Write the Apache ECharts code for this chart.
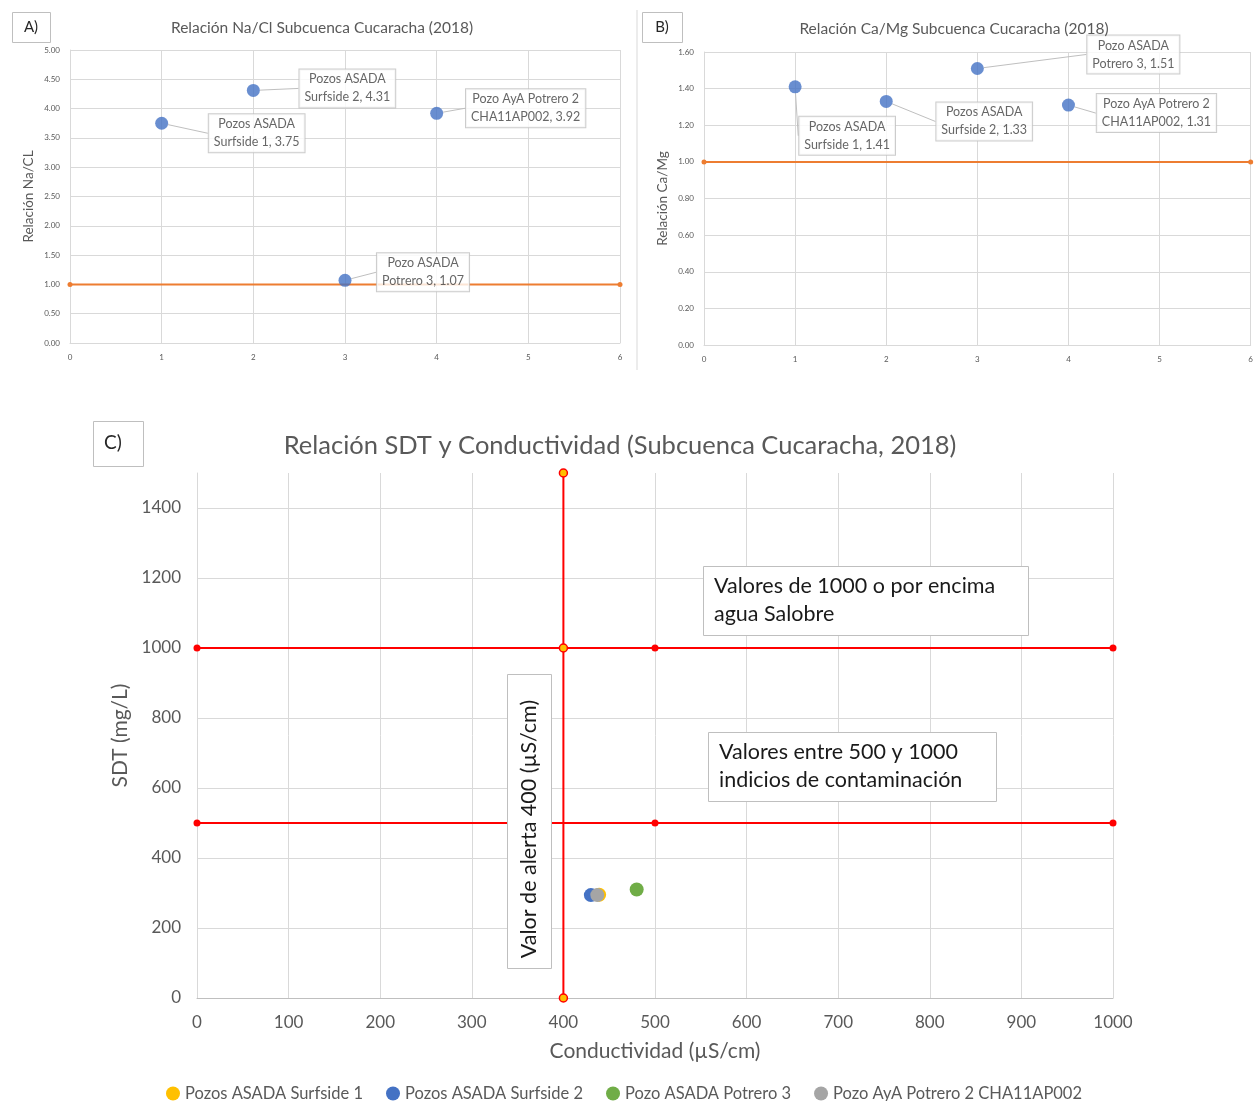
<!DOCTYPE html>
<html><head><meta charset="utf-8">
<script src="https://cdn.jsdelivr.net/npm/echarts@6/dist/echarts.min.js"></script>
<style>html,body{margin:0;padding:0;background:#fff}#c{width:1256px;height:1101px}</style>
</head><body><div id="c"></div>
<script>
// ---------- Data ----------
const wellLabelsA = ['Pozos ASADA\nSurfside 1', 'Pozos ASADA\nSurfside 2', 'Pozo ASADA\nPotrero 3', 'Pozo AyA Potrero 2\nCHA11AP002'];
const wellIdx = [1, 2, 3, 4];
const naClRatio = [3.75, 4.31, 1.07, 3.92];
const caMgRatio = [1.41, 1.33, 1.51, 1.31];
const refLineX = [0, 6];
const refLineY = [1, 1];

const seriesNamesC = ['Pozos ASADA Surfside 1', 'Pozos ASADA Surfside 2', 'Pozo ASADA Potrero 3', 'Pozo AyA Potrero 2 CHA11AP002'];
const conductividad = [439, 430, 480, 437];
const sdt = [295, 294, 310, 294];
const line1000X = [0, 500, 1000];
const line1000Y = [1000, 1000, 1000];
const line500X = [0, 500, 1000];
const line500Y = [500, 500, 500];
const alertX = [400, 400, 400];
const alertY = [0, 1000, 1500];

// ---------- Layout (label offsets, px) ----------
const offA = [[95, 10], [94, -2], [78, -8], [89, -5]];
const offB = [[52, 49], [98, 20], [156, -14], [88, 8]];

const colorsC = ['#ffc000', '#4472c4', '#70ad47', '#a5a5a5'];
const FONT = 'Lato, "Open Sans", sans-serif';
const GRID = '#d9d9d9';
const TXT = '#595959';

function pairs(xs, ys) { return xs.map((x, i) => [x, ys[i]]); }

function smallXAxis(gi) {
  return { gridIndex: gi, type: 'value', min: 0, max: 6, interval: 1,
    axisLine: { lineStyle: { color: GRID } }, axisTick: { show: false },
    axisLabel: { color: TXT, fontSize: 8, fontFamily: FONT, margin: 10 },
    splitLine: { lineStyle: { color: GRID } } };
}
function smallYAxis(gi, max, interval, name) {
  return { gridIndex: gi, type: 'value', min: 0, max: max, interval: interval,
    name: name, nameLocation: 'middle', nameGap: 34, nameTextStyle: { color: TXT, fontSize: 13.5, fontFamily: FONT },
    axisLine: { show: true, lineStyle: { color: GRID } }, axisTick: { show: false },
    axisLabel: { color: TXT, fontSize: 8, fontFamily: FONT, margin: 10, formatter: v => v.toFixed(2) },
    splitLine: { lineStyle: { color: GRID } } };
}
function ratioSeries(gi, values, offs) {
  return { type: 'scatter', xAxisIndex: gi, yAxisIndex: gi, symbolSize: 13,
    itemStyle: { color: '#4472c4' }, z: 5,
    data: wellIdx.map((x, i) => ({ value: [x, values[i]], name: wellLabelsA[i] })),
    label: { show: true, position: 'inside', color: '#404040', fontSize: 12.5, fontFamily: FONT,
      lineHeight: 18, backgroundColor: '#fff', borderColor: '#bfbfbf', borderWidth: 1, padding: [1, 5],
      formatter: p => p.name + ', ' + p.value[1].toFixed(2) },
    labelLine: { show: true, lineStyle: { color: '#bfbfbf', width: 1 } },
    labelLayout: p => ({ dx: offs[p.dataIndex][0], dy: offs[p.dataIndex][1] }) };
}
function refSeries(gi) {
  return { type: 'line', xAxisIndex: gi, yAxisIndex: gi, data: pairs(refLineX, refLineY),
    symbol: 'circle', symbolSize: 5, lineStyle: { color: '#ed7d31', width: 2 },
    itemStyle: { color: '#ed7d31' }, z: 3, silent: true };
}

const chart = echarts.init(document.getElementById('c'), null, { renderer: 'canvas' });
chart.setOption({
  animation: false,
  backgroundColor: '#fff',
  textStyle: { fontFamily: FONT },
  title: [
    { text: 'Relación Na/Cl Subcuenca Cucaracha (2018)', left: 317, top: 15, textAlign: 'center',
      textStyle: { color: TXT, fontSize: 15.5, fontWeight: 'normal', fontFamily: FONT } },
    { text: 'Relación Ca/Mg Subcuenca Cucaracha (2018)', left: 949, top: 16, textAlign: 'center',
      textStyle: { color: TXT, fontSize: 15.5, fontWeight: 'normal', fontFamily: FONT } },
    { text: 'Relación SDT y Conductividad (Subcuenca Cucaracha, 2018)', left: 615, top: 428, textAlign: 'center',
      textStyle: { color: TXT, fontSize: 25.5, fontWeight: 'normal', fontFamily: FONT } }
  ],
  legend: { data: seriesNamesC, left: 161, top: 1080, icon: 'circle', itemWidth: 14, itemHeight: 14,
    itemGap: 23, textStyle: { color: TXT, fontSize: 16.5, fontFamily: FONT } },
  grid: [
    { left: 70, top: 50, width: 550, height: 293 },
    { left: 704, top: 52, width: 549, height: 293 },
    { left: 197, top: 473, width: 916, height: 525 }
  ],
  xAxis: [ smallXAxis(0), smallXAxis(1),
    { gridIndex: 2, type: 'value', min: 0, max: 1000, interval: 100,
      name: 'Conductividad (µS/cm)', nameLocation: 'middle', nameGap: 43,
      nameTextStyle: { color: TXT, fontSize: 21, fontFamily: FONT },
      axisLine: { lineStyle: { color: '#bfbfbf' } }, axisTick: { show: false },
      axisLabel: { color: TXT, fontSize: 17, fontFamily: FONT, margin: 16, formatter: v => String(v) },
      splitLine: { lineStyle: { color: GRID } } } ],
  yAxis: [ smallYAxis(0, 5, 0.5, 'Relación Na/CL'), smallYAxis(1, 1.6, 0.2, 'Relación Ca/Mg'),
    { gridIndex: 2, type: 'value', min: 0, max: 1500, interval: 200,
      name: 'SDT (mg/L)', nameLocation: 'middle', nameGap: 60,
      nameTextStyle: { color: TXT, fontSize: 21, fontFamily: FONT },
      axisLine: { show: true, lineStyle: { color: GRID } }, axisTick: { show: false },
      axisLabel: { color: TXT, fontSize: 17, fontFamily: FONT, margin: 16, showMaxLabel: false,
        formatter: v => (v % 200 === 0 ? String(v) : '') },
      splitLine: { showMaxLine: false, lineStyle: { color: GRID } } } ],
  series: [
    refSeries(0), ratioSeries(0, naClRatio, offA),
    refSeries(1), ratioSeries(1, caMgRatio, offB),
    { name: 'l1000', type: 'line', xAxisIndex: 2, yAxisIndex: 2, data: pairs(line1000X, line1000Y),
      symbol: 'circle', symbolSize: 7, showAllSymbol: true, lineStyle: { color: '#ff0000', width: 2 },
      itemStyle: { color: '#ff0000' }, silent: true, z: 2 },
    { name: 'l500', type: 'line', xAxisIndex: 2, yAxisIndex: 2, data: pairs(line500X, line500Y),
      symbol: 'circle', symbolSize: 7, showAllSymbol: true, lineStyle: { color: '#ff0000', width: 2 },
      itemStyle: { color: '#ff0000' }, silent: true, z: 2 },
    { name: 'alerta', type: 'line', xAxisIndex: 2, yAxisIndex: 2, data: pairs(alertX, alertY),
      symbol: 'circle', symbolSize: 8, showAllSymbol: true, lineStyle: { color: '#ff0000', width: 2 },
      itemStyle: { color: '#ffc000', borderColor: '#ff0000', borderWidth: 1.5 }, silent: true, z: 3 },
    ...seriesNamesC.map((n, i) => ({ name: n, type: 'scatter', xAxisIndex: 2, yAxisIndex: 2,
      symbolSize: 14, itemStyle: { color: colorsC[i], opacity: 1 }, z: 4,
      data: [[conductividad[i], sdt[i]]] }))
  ],
  graphic: [
    { type: 'line', shape: { x1: 637, y1: 10, x2: 637, y2: 370 }, style: { stroke: GRID, lineWidth: 1 } },
    { type: 'rect', shape: { x: 12.5, y: 12.5, width: 38, height: 30 }, style: { fill: '#fff', stroke: '#bfbfbf', lineWidth: 1 } },
    { type: 'text', x: 31, y: 27, style: { text: 'A)', fill: '#262626', font: '15px ' + FONT, align: 'center', verticalAlign: 'middle' } },
    { type: 'rect', shape: { x: 642.5, y: 12.5, width: 40, height: 30 }, style: { fill: '#fff', stroke: '#bfbfbf', lineWidth: 1 } },
    { type: 'text', x: 662, y: 27, style: { text: 'B)', fill: '#262626', font: '15px ' + FONT, align: 'center', verticalAlign: 'middle' } },
    { type: 'rect', shape: { x: 93.5, y: 421.5, width: 50, height: 45 }, style: { fill: '#fff', stroke: '#bfbfbf', lineWidth: 1 } },
    { type: 'text', x: 113, y: 443, style: { text: 'C)', fill: '#262626', font: '19px ' + FONT, align: 'center', verticalAlign: 'middle' } },
    { type: 'rect', z: 10, shape: { x: 703.5, y: 566.5, width: 325, height: 69 }, style: { fill: '#fff', stroke: '#bfbfbf', lineWidth: 1 } },
    { type: 'text', z: 11, x: 714, y: 572, style: { text: 'Valores de 1000 o por encima\nagua Salobre', fill: '#1a1a1a', font: '21.5px ' + FONT, lineHeight: 28 } },
    { type: 'rect', z: 10, shape: { x: 708.5, y: 732.5, width: 288, height: 69 }, style: { fill: '#fff', stroke: '#bfbfbf', lineWidth: 1 } },
    { type: 'text', z: 11, x: 719, y: 738, style: { text: 'Valores entre 500 y 1000\nindicios de contaminación', fill: '#1a1a1a', font: '21.5px ' + FONT, lineHeight: 28 } },
    { type: 'rect', z: 10, shape: { x: 507.5, y: 674.5, width: 44, height: 294 }, style: { fill: '#fff', stroke: '#bfbfbf', lineWidth: 1 } },
    { type: 'text', z: 11, x: 529, y: 829, rotation: Math.PI / 2,
      style: { text: 'Valor de alerta 400 (µS/cm)', fill: '#1a1a1a', font: '21.5px ' + FONT, align: 'center', verticalAlign: 'middle' } }
  ]
});
</script></body></html>
